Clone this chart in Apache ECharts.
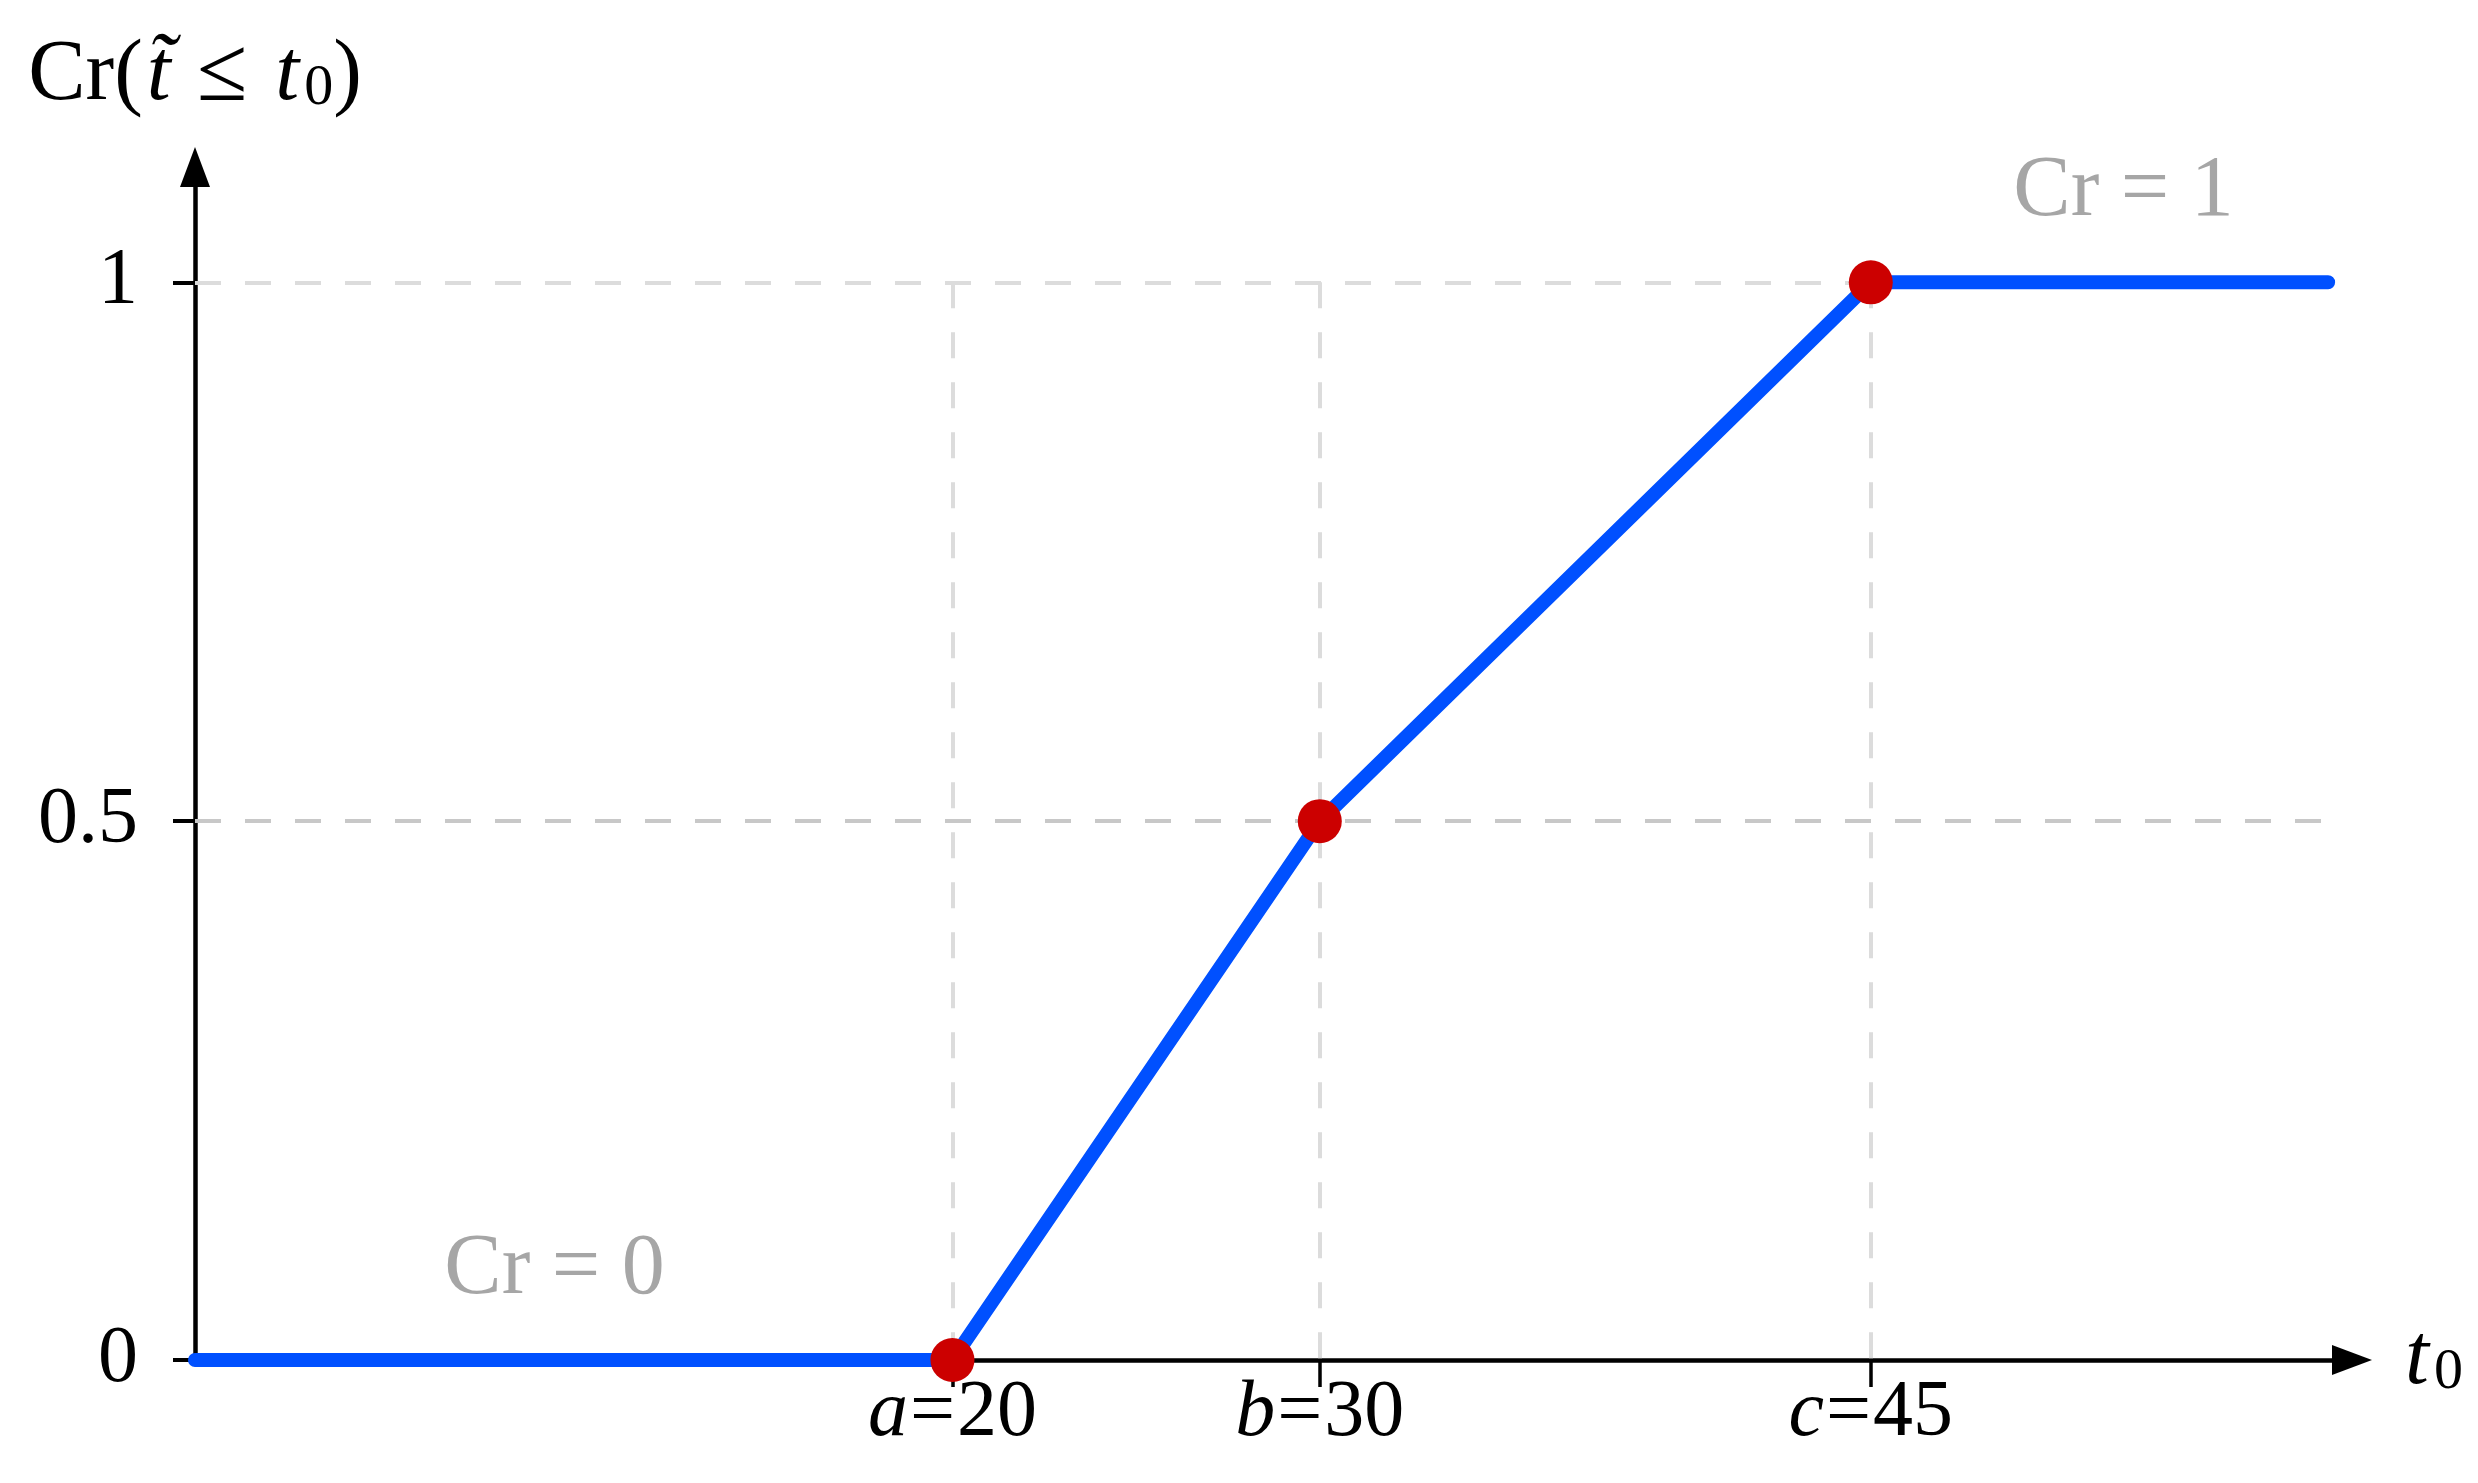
<!DOCTYPE html>
<html>
<head>
<meta charset="utf-8">
<script src="https://cdn.jsdelivr.net/npm/echarts@6/dist/echarts.min.js"></script>
<style>
html,body{margin:0;padding:0;background:#fff;}
#chart{width:2478px;height:1483px;}
</style>
</head>
<body>
<div id="chart"></div>
<script>
// ---- data ----
const xTickValues = [20, 30, 45];
const xTickSymbols = ['a', 'b', 'c'];
const yTickValues = [0, 0.5, 1];
const yTickLabels = ['0', '0.5', '1'];
const curveX = [-0.62, 20, 30, 45, 57.45];
const curveY = [0, 0, 0.5, 1, 1];
const keyX = [20, 30, 45];
const keyY = [0, 0.5, 1];
const noteTexts = ['Cr = 0', 'Cr = 1'];
const noteX = [9.17, 51.88];
const noteY = [0.0835, 1.083];
const xRange = [-0.62, 58.10];
const yRange = [0, 1.107];
const gridEndX = 57.45;

const FONT = '"Liberation Serif", "DejaVu Serif", serif';
const chart = echarts.init(document.getElementById('chart'), null, {renderer: 'canvas'});

const curve = curveX.map((x, i) => [x, curveY[i]]);
const keys = keyX.map((x, i) => [x, keyY[i]]);

const gridLines = [];
yTickValues.filter(v => v > 0).forEach(v => {
  gridLines.push([{coord: [xRange[0], v], lineStyle: {color: v === 0.5 ? '#c8c8c8' : '#dcdcdc'}}, {coord: [gridEndX, v]}]);
});
xTickValues.forEach(v => {
  gridLines.push([{coord: [v, 1], lineStyle: {color: '#dcdcdc'}}, {coord: [v, 0]}]);
});

const mainRich = {
  r: {fontFamily: FONT, fontSize: 86, lineHeight: 84, color: '#000'},
  t: {fontFamily: FONT, fontSize: 86, lineHeight: 84, fontStyle: 'italic', color: '#000', padding: [0, 4, 0, 4]},
  le: {fontFamily: FONT, fontSize: 92, lineHeight: 84, color: '#000', padding: [0, 24, 0, 22]},
  s: {fontFamily: FONT, fontSize: 58, lineHeight: 36, verticalAlign: 'bottom', color: '#000', padding: [0, 0, 0, 1]}
};

const option = {
  animation: false,
  backgroundColor: '#fff',
  grid: {left: 195, right: 126, top: 167, bottom: 123, containLabel: false},
  xAxis: {
    type: 'value', min: xRange[0], max: xRange[1],
    splitLine: {show: false},
    axisLine: {show: true, onZero: false, lineStyle: {color: '#000', width: 4.5},
      symbol: ['none', 'triangle'], symbolSize: [30, 40]},
    axisTick: {show: true, length: 27, lineStyle: {color: '#000', width: 3.5}, customValues: xTickValues},
    axisLabel: {
      customValues: xTickValues, margin: 54, verticalAlign: 'middle',
      formatter: v => {
        const i = xTickValues.indexOf(v);
        return '{i|' + xTickSymbols[i] + '}{e|=}{n|' + v + '}';
      },
      rich: {
        i: {fontFamily: FONT, fontSize: 80, fontStyle: 'italic', color: '#000'},
        e: {fontFamily: FONT, fontSize: 80, color: '#000', padding: [0, 2, 0, 2]},
        n: {fontFamily: FONT, fontSize: 80, color: '#000'}
      }
    },
    name: '{t|t}{s|0}', nameLocation: 'end', nameGap: 49,
    nameTextStyle: {rich: mainRich, align: 'left', verticalAlign: 'middle'}
  },
  yAxis: {
    type: 'value', min: yRange[0], max: yRange[1],
    splitLine: {show: false},
    axisLine: {show: true, onZero: false, lineStyle: {color: '#000', width: 4.5},
      symbol: ['none', 'triangle'], symbolSize: [30, 40]},
    axisTick: {show: true, length: 22, lineStyle: {color: '#000', width: 4}, customValues: yTickValues},
    axisLabel: {
      customValues: yTickValues, margin: 57,
      formatter: v => yTickLabels[yTickValues.indexOf(v)],
      fontFamily: FONT, fontSize: 80, color: '#000'
    },
    name: '{r|Cr(}{t|t\u0303}{le|\u2264}{t|t}{s|0}{r|)}', nameLocation: 'end', nameGap: 91,
    nameTextStyle: {rich: mainRich, align: 'center', verticalAlign: 'middle'}
  },
  series: [
    {
      name: 'grid', type: 'line', data: [], z: 1, silent: true,
      markLine: {
        z: 1, silent: true, symbol: ['none', 'none'], animation: false,
        label: {show: false},
        lineStyle: {type: [26, 24], width: 4, color: '#dcdcdc'},
        emphasis: {disabled: true},
        data: gridLines
      }
    },
    {
      name: 'Cr', type: 'line', data: curve, z: 3, clip: false,
      showSymbol: false, symbol: 'none',
      lineStyle: {color: '#0050ff', width: 14, cap: 'round', join: 'round'},
      markPoint: {
        z: 2, symbol: 'circle', symbolSize: 1, itemStyle: {color: 'rgba(0,0,0,0)'},
        label: {show: true, position: 'inside', formatter: p => p.name,
          fontFamily: FONT, fontSize: 86, color: '#a6a6a6'},
        data: noteTexts.map((t, i) => ({name: t, coord: [noteX[i], noteY[i]]}))
      }
    },
    {
      name: 'keys', type: 'scatter', data: keys, z: 4, clip: false,
      symbol: 'circle', symbolSize: 44,
      itemStyle: {color: '#cc0000', opacity: 1}
    }
  ]
};
chart.setOption(option);
</script>
</body>
</html>
